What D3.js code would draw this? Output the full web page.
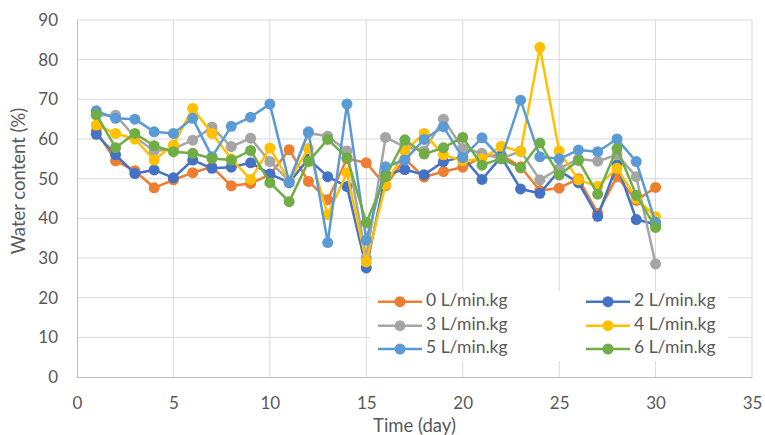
<!DOCTYPE html>
<html><head><meta charset="utf-8">
<script src="https://cdn.jsdelivr.net/npm/d3@7"></script>
<style>
html,body{margin:0;padding:0;background:#fff;}
svg{display:block;font-family:Lato,"Open Sans",sans-serif;}
</style></head>
<body>
<svg id="chart" width="765" height="435"></svg>
<script>
const days = d3.range(1, 31);
const seriesNames = ["0 L/min.kg","2 L/min.kg","3 L/min.kg","4 L/min.kg","5 L/min.kg","6 L/min.kg"];
const seriesColors = ["#ED7D31","#4472C4","#A5A5A5","#FFC000","#5B9BD5","#70AD47"];
const s0 = [62,54.5,52,47.7,49.7,51.5,53,48.2,48.8,51,57.3,49.3,44.7,55,54,48.2,55,50.4,51.8,52.9,55.5,56,53,47,47.6,50,41.3,50.5,44.5,47.8];
const s2 = [61.2,56,51.3,52.2,50.2,54.7,52.6,52.9,54,51.2,49,55,50.5,48,27.5,51,52.3,51,54.3,55.5,49.8,55.5,47.4,46.3,52,49,40.5,53.5,39.7,38.5];
const s3 = [66,66,60.5,57,57.5,59.7,63,58.1,60.2,54.3,49.5,61.5,60.7,57,30,60.4,58,57,65,57.6,56.4,55,57,49.7,52.5,55,54.4,56,50.5,28.5];
const s4 = [63.5,61.4,60,54.7,58.5,67.7,61.4,55,49.8,57.7,49.5,57.6,40.9,51.5,29,48.5,57,61.4,56,54.5,55,58.2,56.8,83.1,57,49.7,48.1,52.6,45,40.4];
const s5 = [67.1,65.2,65,61.8,61.4,65.2,55.5,63.2,65.5,68.8,49.2,61.8,33.9,68.8,34.5,53,54.7,59.9,63.1,55.3,60.3,55,69.8,55.5,55,57.2,56.8,60,54.3,39];
const s6 = [66.2,57.8,61.4,58.3,56.8,56.4,55.1,54.7,57.1,49,44.2,54.3,59.9,55.3,38.9,50.5,59.8,56.2,57.8,60.4,53.4,55.1,52.7,59,50.9,54.6,46.1,57.6,45.8,37.7];
const xTicks = [0,5,10,15,20,25,30,35];
const yTicks = [0,10,20,30,40,50,60,70,80,90];

(function(){
const seriesValues = [s0,s2,s3,s4,s5,s6];
const series = seriesNames.map((name,i)=>({name, color: seriesColors[i], values: days.map((d,j)=>({x:d, y:seriesValues[i][j]}))}));

const svg = d3.select("#chart");
const mL = 77, mR = 752, mT = 20, mB = 377;
const x = d3.scaleLinear().domain([0,35]).range([mL,mR]);
const y = d3.scaleLinear().domain([0,90]).range([mB,mT]);
const textColor = "#595959";
const gridColor = "#D9D9D9";
const ff = "Lato,'Open Sans',sans-serif";

svg.append("g").selectAll("line").data(yTicks.filter(t=>t>0)).join("line")
  .attr("x1",mL).attr("x2",mR).attr("y1",d=>y(d)).attr("y2",d=>y(d))
  .attr("stroke",gridColor).attr("stroke-width",1);
svg.append("g").selectAll("line").data(xTicks.filter(t=>t>0)).join("line")
  .attr("x1",d=>x(d)).attr("x2",d=>x(d)).attr("y1",mT).attr("y2",mB)
  .attr("stroke",gridColor).attr("stroke-width",1);

const xAxis = svg.append("g").attr("transform",`translate(0,${mB})`)
  .call(d3.axisBottom(x).tickValues(xTicks).tickSize(0).tickPadding(20));
xAxis.select(".domain").attr("stroke","#BFBFBF").attr("stroke-width",1);
xAxis.selectAll("text").attr("fill",textColor).attr("font-size",17).attr("font-family",ff);

const yAxis = svg.append("g").attr("transform",`translate(${mL},0)`)
  .call(d3.axisLeft(y).tickValues(yTicks).tickSize(0).tickPadding(19));
yAxis.select(".domain").attr("stroke","#BFBFBF").attr("stroke-width",1);
yAxis.selectAll("text").attr("fill",textColor).attr("font-size",17).attr("font-family",ff);

svg.append("text").attr("x",(mL+mR)/2).attr("y",427).attr("text-anchor","middle")
  .attr("dominant-baseline","middle").attr("fill",textColor).attr("font-size",18.5).text("Time (day)");
svg.append("text").attr("transform","translate(20,181) rotate(-90)").attr("text-anchor","middle")
  .attr("dominant-baseline","middle").attr("fill",textColor).attr("font-size",18.5).text("Water content (%)");

const line = d3.line().x(d=>x(d.x)).y(d=>y(d.y));
const gS = svg.append("g");
series.forEach(s=>{
  const g = gS.append("g");
  g.append("path").datum(s.values).attr("d",line).attr("fill","none")
    .attr("stroke",s.color).attr("stroke-width",2.5).attr("stroke-linejoin","round");
  g.selectAll("circle").data(s.values).join("circle")
    .attr("cx",d=>x(d.x)).attr("cy",d=>y(d.y)).attr("r",5.5).attr("fill",s.color);
});

const legend = svg.append("g");
legend.append("rect").attr("x",370).attr("y",291).attr("width",358).attr("height",70).attr("fill","#fff");
const colX = [378,586];
const rowY = [301.7,325.7,349];
series.forEach((s,i)=>{
  const cx = colX[i%2], cy = rowY[Math.floor(i/2)];
  const g = legend.append("g");
  g.append("line").attr("x1",cx).attr("x2",cx+44).attr("y1",cy).attr("y2",cy)
    .attr("stroke",s.color).attr("stroke-width",2.5);
  g.append("circle").attr("cx",cx+22).attr("cy",cy).attr("r",5.5).attr("fill",s.color);
  g.append("text").attr("x",cx+48).attr("y",cy).attr("dominant-baseline","middle")
    .attr("fill",textColor).attr("font-size",17.5).text(s.name);
});
})();
</script>
</body></html>
